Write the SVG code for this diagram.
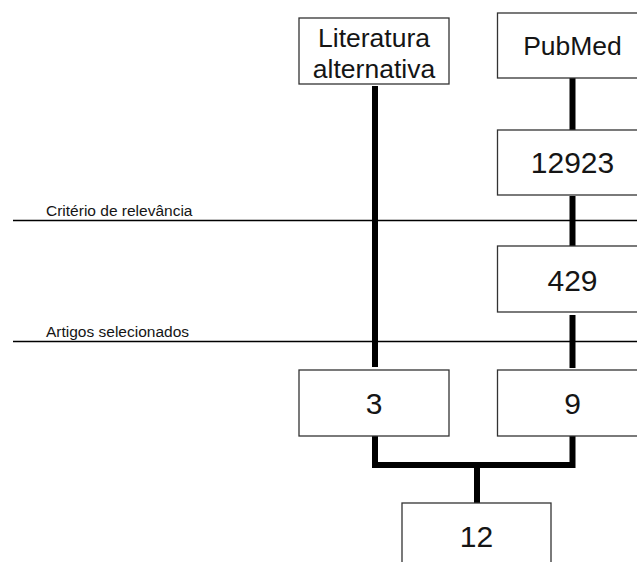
<svg xmlns="http://www.w3.org/2000/svg" width="637" height="562" viewBox="0 0 637 562">
<style>
.box{fill:#fff;stroke:#333;stroke-width:1.3}
.lbl{font-family:"Liberation Sans",Arial,sans-serif;font-size:26.5px;fill:#151515;text-anchor:middle}
.num{font-family:"Liberation Sans",Arial,sans-serif;font-size:30px;fill:#151515;text-anchor:middle}
.stage{font-family:"Liberation Sans",Arial,sans-serif;font-size:15.5px;fill:#151515}
.conn{fill:none;stroke:#000;stroke-width:6}
.rule{stroke:#000;stroke-width:1.3}
</style>
<rect width="637" height="562" fill="#fff"/>
<g id="stages">
<line class="rule" x1="13" y1="220.5" x2="637" y2="220.5"/>
<text class="stage" x="46" y="216">Critério de relevância</text>
<line class="rule" x1="13" y1="341.5" x2="637" y2="341.5"/>
<text class="stage" x="46" y="337">Artigos selecionados</text>
</g>
<g id="connectors">
<line class="conn" x1="375" y1="86" x2="375" y2="367"/>
<line class="conn" x1="572.5" y1="76" x2="572.5" y2="130"/>
<line class="conn" x1="572.5" y1="196" x2="572.5" y2="247"/>
<line class="conn" x1="572.5" y1="315" x2="572.5" y2="368"/>
<path class="conn" d="M375 436 V465 H572.5 V436 M477 465 V503"/>
</g>
<g id="literatura">
<rect class="box" x="299" y="18" width="150" height="66"/>
<text class="lbl" x="374" y="47">Literatura</text>
<text class="lbl" x="374" y="78">alternativa</text>
</g>
<g id="pubmed">
<rect class="box" x="497.5" y="13" width="150" height="65"/>
<text class="lbl" x="572.5" y="55">PubMed</text>
</g>
<g id="n12923">
<rect class="box" x="497.5" y="130" width="150" height="65"/>
<text class="num" x="572.5" y="173">12923</text>
</g>
<g id="n429">
<rect class="box" x="497.5" y="246" width="150" height="66"/>
<text class="num" x="572.5" y="291">429</text>
</g>
<g id="n3">
<rect class="box" x="299" y="370" width="150" height="66"/>
<text class="num" x="374" y="414">3</text>
</g>
<g id="n9">
<rect class="box" x="497.5" y="370" width="150" height="66"/>
<text class="num" x="572.5" y="414">9</text>
</g>
<g id="n12">
<rect class="box" x="402" y="503" width="149" height="66"/>
<text class="num" x="476.5" y="547">12</text>
</g>
</svg>
